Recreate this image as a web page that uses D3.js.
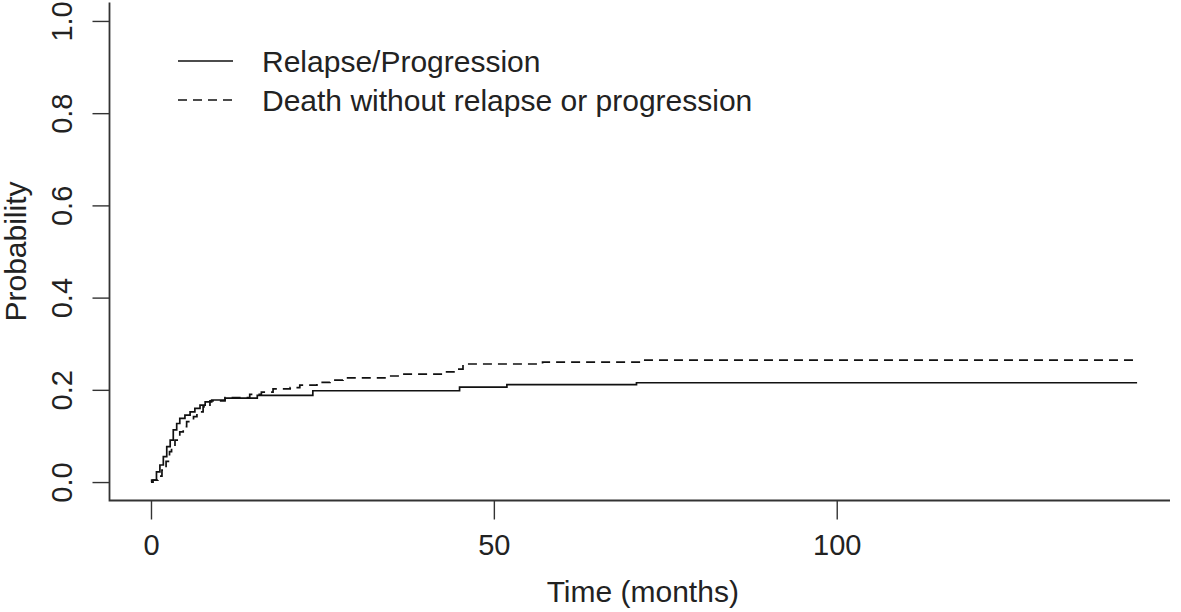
<!DOCTYPE html>
<html>
<head>
<meta charset="utf-8">
<script src="https://cdn.jsdelivr.net/npm/d3@7"></script>
<style>
  html, body { margin: 0; padding: 0; background: #fff; }
  svg text { font-family: "Liberation Sans", Arial, sans-serif; fill: #222; }
</style>
</head>
<body>
<svg id="chart" width="1181" height="612"></svg>
<script>
// ---- data ----
const seriesNames = ["Relapse/Progression", "Death without relapse or progression"];

const relapseTimes  = [0, 0.1, 0.8, 1.3, 1.8, 2.3, 2.8, 3.25, 3.75, 4.2, 4.95, 5.7, 6.4, 7.15, 7.9, 8.85, 10.8, 15.5, 23.6, 45.0, 51.9, 70.8, 143.8];
const relapseValues = [0, 0.004, 0.022, 0.037, 0.055, 0.077, 0.091, 0.113, 0.127, 0.138, 0.145, 0.152, 0.160, 0.167, 0.174, 0.178, 0.182, 0.188, 0.198, 0.206, 0.2115, 0.2154, 0.2154];

const deathTimes  = [0, 0.3, 1.0, 1.6, 2.2, 2.7, 3.0, 3.5, 4.2, 4.7, 5.2, 6.2, 6.7, 7.6, 8.6, 10.8, 14.4, 16.1, 17.8, 20.3, 21.7, 24.2, 26.1, 28.0, 34.4, 36.3, 42.6, 44.6, 45.5, 57.1, 71.7, 143.8];
const deathValues = [0, 0.004, 0.013, 0.026, 0.045, 0.066, 0.077, 0.091, 0.109, 0.120, 0.131, 0.142, 0.152, 0.163, 0.176, 0.183, 0.190, 0.195, 0.202, 0.205, 0.210, 0.216, 0.221, 0.226, 0.230, 0.234, 0.239, 0.245, 0.256, 0.260, 0.2646, 0.2646];

const xTicks = [0, 50, 100];
const yTicks = [0, 0.2, 0.4, 0.6, 0.8, 1.0];
const xLabel = "Time (months)";
const yLabel = "Probability";

// ---- layout ----
const svg = d3.select("#chart");
const pLeft = 109.5, pRight = 1170, pTop = 2.5, pBottom = 500.5;
const fontSize = 30;
const tickFont = 29;

const x = d3.scaleLinear().domain([-6.05, 148.6]).range([pLeft, pRight]);
const y = d3.scaleLinear().domain([-0.04, 1.04]).range([pBottom, pTop]);

const ink = "#222";

// box (L shape)
svg.append("path")
  .attr("d", `M${pLeft},${pTop}V${pBottom}H${pRight}`)
  .attr("fill", "none").attr("stroke", "#333").attr("stroke-width", 1.8);

// x axis
const xAxis = svg.append("g").attr("transform", `translate(0,${pBottom})`)
  .call(d3.axisBottom(x).tickValues(xTicks).tickSize(19).tickSizeOuter(0).tickFormat(d3.format("d")));
xAxis.select(".domain").remove();
xAxis.selectAll(".tick line").attr("stroke", "#333").attr("stroke-width", 1.4);
xAxis.selectAll(".tick text")
  .attr("y", 54).attr("dy", null)
  .attr("font-size", tickFont).style("font-family", "Liberation Sans, Arial, sans-serif").attr("fill", ink);

// y axis
const yAxis = svg.append("g").attr("transform", `translate(${pLeft},0)`)
  .call(d3.axisLeft(y).tickValues(yTicks).tickSize(17).tickSizeOuter(0).tickFormat(d3.format(".1f")));
yAxis.select(".domain").remove();
yAxis.selectAll(".tick line").attr("stroke", "#333").attr("stroke-width", 1.4);
yAxis.selectAll(".tick text")
  .attr("x", null).attr("dy", null)
  .attr("transform", "translate(-37.5,0) rotate(-90)")
  .attr("text-anchor", "middle")
  .attr("font-size", tickFont).style("font-family", "Liberation Sans, Arial, sans-serif").attr("fill", ink);

// axis titles
svg.append("text")
  .attr("x", (pLeft + pRight) / 2 + 3).attr("y", 602)
  .attr("text-anchor", "middle").attr("font-size", fontSize)
  .text(xLabel);
svg.append("text")
  .attr("transform", `translate(26,${(pTop + pBottom) / 2}) rotate(-90)`)
  .attr("text-anchor", "middle").attr("font-size", fontSize)
  .text(yLabel);

// curves
const line = d3.line().x(d => x(d[0])).y(d => y(d[1])).curve(d3.curveStepAfter);
const relapse = relapseTimes.map((t, i) => [t, relapseValues[i]]);
const death = deathTimes.map((t, i) => [t, deathValues[i]]);

svg.append("path").datum(relapse)
  .attr("d", line).attr("fill", "none").attr("stroke", "#111").attr("stroke-width", 1.7);
svg.append("path").datum(death)
  .attr("d", line).attr("fill", "none").attr("stroke", "#111").attr("stroke-width", 1.7)
  .attr("stroke-dasharray", "9,6");

// legend
const legend = svg.append("g");
const legendRows = [
  { name: seriesNames[0], dash: null, ly: 61 },
  { name: seriesNames[1], dash: "9,6", ly: 100 }
];
legendRows.forEach(r => {
  legend.append("line")
    .attr("x1", 178).attr("x2", 233).attr("y1", r.ly).attr("y2", r.ly)
    .attr("stroke", "#111").attr("stroke-width", 1.6)
    .attr("stroke-dasharray", r.dash);
  legend.append("text")
    .attr("x", 262).attr("y", r.ly + 10.5)
    .attr("font-size", fontSize)
    .text(r.name);
});
</script>
</body>
</html>
